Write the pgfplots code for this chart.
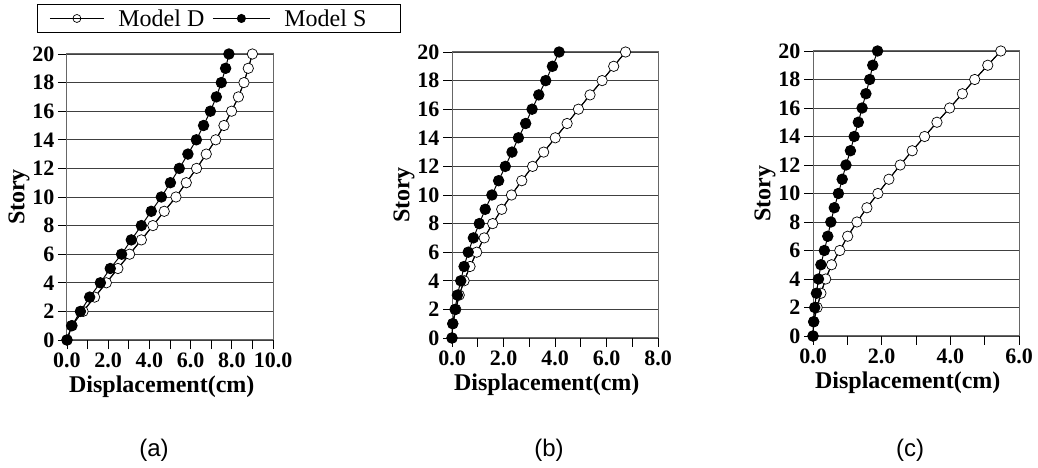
\documentclass[border=0pt]{standalone}
\usepackage{pgfplots}
\usepackage{pgfplotstable}
\pgfplotsset{compat=1.18}
\usepackage{fontspec}
\setmainfont{Liberation Serif}
\newfontfamily\sansf{Liberation Sans}

\pgfplotstableread{
story D S
0 0 0
1 0.22 0.24
2 0.78 0.65
3 1.34 1.10
4 1.91 1.62
5 2.47 2.10
6 3.04 2.65
7 3.61 3.12
8 4.17 3.61
9 4.72 4.09
10 5.29 4.58
11 5.79 5.02
12 6.29 5.45
13 6.76 5.87
14 7.22 6.28
15 7.62 6.63
16 7.99 6.96
17 8.32 7.25
18 8.59 7.49
19 8.80 7.70
20 9.00 7.86
}\TA

\pgfplotstableread{
story D S
0 0 0
1 0.03 0.03
2 0.15 0.12
3 0.28 0.21
4 0.47 0.34
5 0.70 0.47
6 0.96 0.63
7 1.25 0.83
8 1.58 1.06
9 1.93 1.29
10 2.31 1.55
11 2.71 1.81
12 3.13 2.07
13 3.56 2.33
14 4.01 2.58
15 4.47 2.86
16 4.91 3.11
17 5.36 3.37
18 5.83 3.64
19 6.28 3.90
20 6.74 4.16
}\TB

\pgfplotstableread{
story D S
0 0 0
1 0.02 0.02
2 0.12 0.05
3 0.23 0.10
4 0.37 0.16
5 0.54 0.23
6 0.78 0.33
7 1.01 0.43
8 1.28 0.52
9 1.57 0.62
10 1.89 0.74
11 2.21 0.85
12 2.54 0.96
13 2.89 1.09
14 3.25 1.20
15 3.61 1.32
16 3.98 1.43
17 4.35 1.54
18 4.71 1.65
19 5.09 1.74
20 5.47 1.88
}\TC

\pgfplotsset{
 panel/.style={
  scale only axis, width=206pt, height=286pt,
  ymin=0, ymax=20, xmin=0,
  ytick={0,2,...,20},
  ymajorgrids, major grid style={black!75, line width=0.9pt},
  tick align=outside, major tick length=9pt, minor tick length=9pt,
  tick style={black, line width=0.9pt},
  xtick pos=bottom, ytick pos=left,
  axis line style={black!60, line width=1pt},
  /pgf/number format/assume math mode=true,
  ticklabel style={font=\bfseries\fontsize{22}{22}\selectfont},
  xticklabel={\pgfmathprintnumber[fixed,fixed zerofill,precision=1]{\tick}},
  xlabel={Displacement(cm)}, ylabel={Story},
  label style={font=\bfseries\fontsize{24}{24}\selectfont},
  xlabel style={at={(axis description cs:0.46,-0.164)}, anchor=center},
  ylabel style={at={(axis description cs:-0.233,0.5)}, anchor=center},
  clip=false,
 },
 dplot/.style={black, line width=1pt, mark=*, mark size=5.2pt,
  mark options={fill=white, line width=0.7pt},
  legend image code/.code={
   \draw[black, line width=1pt, mark=*, mark size=4pt, mark options={fill=white, line width=0.7pt}] plot coordinates {(27pt,0pt)};
   \draw[black, line width=1pt] (0pt,0pt) -- (54pt,0pt);}},
 dline/.style={black, line width=1pt, forget plot},
 splot/.style={black, line width=1pt, mark=*, mark size=5.2pt,
  mark options={fill=black},
  legend image code/.code={
   \draw[black, line width=1pt] (0pt,0pt) -- (57pt,0pt);
   \draw[black, mark=*, mark size=4pt, mark options={fill=black}] plot coordinates {(28.5pt,0pt)};}},
}

\begin{document}
\begin{tikzpicture}
\begin{axis}[panel, at={(67pt,128pt)}, anchor=south west,
  xmax=10, xtick={0,2,...,10}, minor xtick={1,3,...,9},
  legend columns=2,
  legend style={at={(axis description cs:-0.1456,1.1748)}, anchor=north west,
   draw=black, line width=0.8pt, inner xsep=12pt, inner ysep=3pt,
   font=\fontsize{24}{24}\selectfont,
   /tikz/every odd column/.append style={column sep=12pt},
   /tikz/every even column/.append style={column sep=6pt}},
 ]
 \addplot[dplot] table[x=D,y=story]{\TA};
 \addlegendentry{Model D}
 \addplot[dline] table[x=D,y=story]{\TA};
 \addplot[splot] table[x=S,y=story]{\TA};
 \addlegendentry{\makebox[102pt][l]{Model S}}
\end{axis}

\begin{axis}[panel, at={(452pt,130pt)}, anchor=south west,
  xmax=8, xtick={0,2,...,8}, minor xtick={1,3,...,7}]
 \addplot[dplot] table[x=D,y=story]{\TB};
 \addplot[dline] table[x=D,y=story]{\TB};
 \addplot[splot] table[x=S,y=story]{\TB};
\end{axis}

\begin{axis}[panel, at={(813pt,132pt)}, anchor=south west, height=285pt,
  xmax=6, xtick={0,2,...,6}, minor xtick={1,3,5}]
 \addplot[dplot] table[x=D,y=story]{\TC};
 \addplot[dline] table[x=D,y=story]{\TC};
 \addplot[splot] table[x=S,y=story]{\TC};
\end{axis}

\node[font=\sansf\fontsize{24}{24}\selectfont] at (154pt,18pt) {(a)};
\node[font=\sansf\fontsize{24}{24}\selectfont] at (549pt,18pt) {(b)};
\node[font=\sansf\fontsize{24}{24}\selectfont] at (910pt,18pt) {(c)};

\pgfresetboundingbox
\useasboundingbox (0pt,0pt) rectangle (1038pt,468pt);
\end{tikzpicture}
\end{document}
